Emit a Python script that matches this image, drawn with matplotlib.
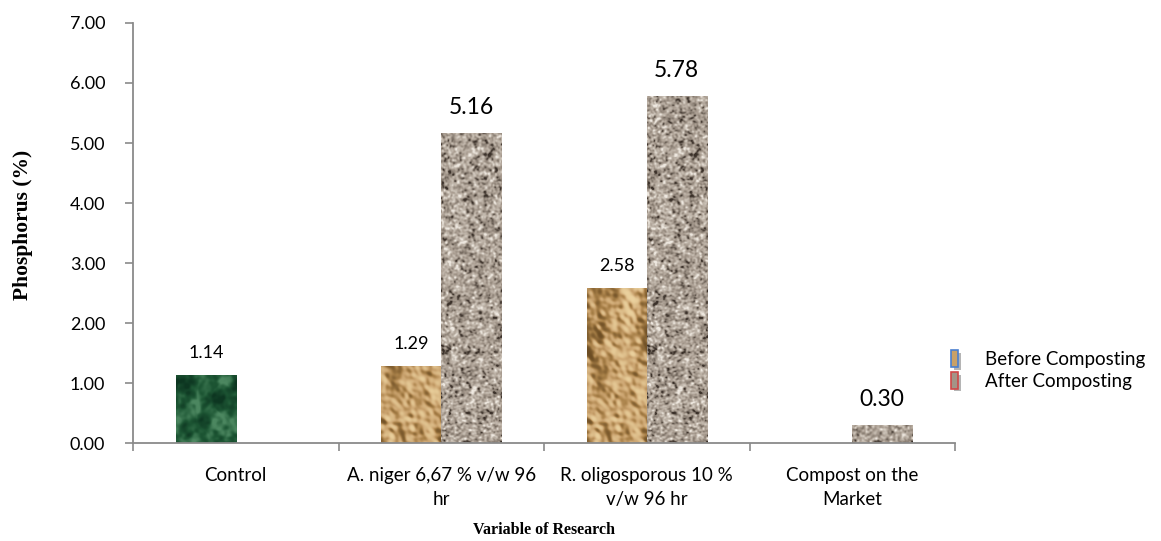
import numpy as np
import matplotlib
matplotlib.use("Agg")
import matplotlib.pyplot as plt
from matplotlib.colors import LinearSegmentedColormap
from matplotlib.legend_handler import HandlerBase
from matplotlib.patches import Patch, Rectangle

categories = [
    "Control",
    "A. niger 6,67 % v/w 96\nhr",
    "R. oligosporous 10 %\nv/w 96 hr",
    "Compost on the\nMarket",
]
control_value = 1.14
before_values = [np.nan, 1.29, 2.58, np.nan]
after_values = [np.nan, 5.16, 5.78, 0.30]
series_names = ["Before Composting", "After Composting"]

plt.rcParams["font.family"] = ["Lato", "DejaVu Sans"]
AXIS_GREY = "#8a8a8a"


def blur(a, sy, sx):
    fy = np.fft.fftfreq(a.shape[0])[:, None]
    fx = np.fft.fftfreq(a.shape[1])[None, :]
    k = np.exp(-2 * np.pi ** 2 * ((sy * fy) ** 2 + (sx * fx) ** 2))
    return np.real(np.fft.ifft2(np.fft.fft2(a) * k))


def norm(a):
    return (a - a.min()) / (a.max() - a.min())


def stretch(a):
    lo, hi = np.percentile(a, [1, 99])
    return np.clip((a - lo) / (hi - lo), 0, 1)


def granite(seed, shape=(420, 60)):
    rng = np.random.default_rng(seed)
    fine = stretch(blur(rng.standard_normal(shape), 0.9, 0.9))
    coarse = stretch(blur(rng.standard_normal(shape), 3, 3))
    v = 0.85 * fine + 0.15 * coarse
    cmap = LinearSegmentedColormap.from_list(
        "granite",
        [(0, "#3a3029"), (0.22, "#857a6f"), (0.5, "#ada195"),
         (0.78, "#cbc2b7"), (1, "#efe9e1")])
    return cmap(stretch(v))[..., :3]


def paper(seed, shape=(420, 60)):
    rng = np.random.default_rng(seed)
    h = (blur(rng.standard_normal(shape), 30, 14)
         + 0.22 * blur(rng.standard_normal(shape), 10, 6)
         + 0.02 * blur(rng.standard_normal(shape), 2, 2))
    gy, gx = np.gradient(h)
    shade = gx - 0.8 * gy
    shade = shade / shade.std()
    v = 0.5 + 0.5 * np.tanh(0.6 * shade)
    cmap = LinearSegmentedColormap.from_list(
        "paper",
        [(0, "#6a4b22"), (0.3, "#a98149"), (0.55, "#cba470"), (1, "#ecd3a0")])
    return cmap(v)[..., :3]


def marble(seed, shape=(420, 60)):
    rng = np.random.default_rng(seed)
    f = norm(blur(rng.standard_normal(shape), 9, 6))
    g = stretch(blur(rng.standard_normal(shape), 1.6, 1.6))
    m = stretch(blur(rng.standard_normal(shape), 5, 4))
    veins = np.exp(-np.abs(f - 0.5) * 10)
    v = np.clip(0.15 * veins + 0.35 * g + 0.5 * m, 0, 1)
    cmap = LinearSegmentedColormap.from_list(
        "marble", [(0, "#0d3621"), (0.5, "#1d5634"), (1, "#4c8760")])
    return cmap(stretch(v))[..., :3]


def fill_bars(ax, bars, tex):
    for rect in bars:
        if not np.isfinite(rect.get_height()):
            continue
        x0 = rect.get_x()
        im = ax.imshow(tex, extent=(x0, x0 + rect.get_width(), 0, 7),
                       aspect="auto", interpolation="bilinear", zorder=2)
        im.set_clip_path(rect)


class ShadowBox(HandlerBase):
    def create_artists(self, legend, orig_handle, xdescent, ydescent,
                       width, height, fontsize, trans):
        w = 0.55 * height
        h = height * 1.25
        x = width / 2 - w / 2 - xdescent
        y = -ydescent - (h - height) / 2
        shadow = Rectangle((x + 2, y - 2), w, h, facecolor="#b5b5b5",
                           edgecolor="none", transform=trans)
        box = Rectangle((x, y), w, h, facecolor=orig_handle.get_facecolor(),
                        edgecolor=orig_handle.get_edgecolor(), linewidth=1.2,
                        transform=trans)
        return [shadow, box]


fig = plt.figure(figsize=(11.61, 5.41), dpi=100)
ax = fig.add_axes([0.1146, 0.1811, 0.708, 0.7764])

x = np.arange(len(categories))
width = 0.292
control_bar = ax.bar([x[0] - width / 2], [control_value], width,
                     color="#1f5a35", linewidth=0, zorder=1)
before_bars = ax.bar(x - width / 2, before_values, width,
                     color="#c4a06a", linewidth=0, zorder=1)
after_bars = ax.bar(x + width / 2, after_values, width,
                    color="#a89b8e", linewidth=0, zorder=1)

fill_bars(ax, control_bar, marble(5))
fill_bars(ax, before_bars, paper(11))
fill_bars(ax, after_bars, granite(3))

# value labels: small for the first slot, larger for the after series
for rect, v in zip(control_bar, [control_value]):
    ax.annotate(f"{v:.2f}", (rect.get_x() + rect.get_width() / 2, v),
                xytext=(0, 10), textcoords="offset points",
                ha="center", va="bottom", fontsize=13)
for rect, v in zip(before_bars, before_values):
    if np.isfinite(v):
        ax.annotate(f"{v:.2f}", (rect.get_x() + rect.get_width() / 2, v),
                    xytext=(0, 10), textcoords="offset points",
                    ha="center", va="bottom", fontsize=13)
for rect, v in zip(after_bars, after_values):
    if np.isfinite(v):
        ax.annotate(f"{v:.2f}", (rect.get_x() + rect.get_width() / 2, v),
                    xytext=(0, 11), textcoords="offset points",
                    ha="center", va="bottom", fontsize=16.5)

ax.set_xlim(-0.5, len(categories) - 0.5)
ax.set_ylim(0, 7)
ax.set_yticks(np.arange(0, 8))
ax.set_yticklabels([f"{t:.2f}" for t in range(8)], fontsize=13)
ax.set_xticks(x)
ax.set_xticklabels(categories, fontsize=13.5, linespacing=1.5)
ax.set_xticks(np.arange(len(categories) + 1) - 0.5, minor=True)
ax.tick_params(axis="x", which="major", length=0, pad=17)
ax.tick_params(axis="x", which="minor", length=6, width=1.2, color=AXIS_GREY)
ax.tick_params(axis="y", length=6, width=1.2, color=AXIS_GREY, pad=14)

for side in ("top", "right"):
    ax.spines[side].set_visible(False)
for side in ("left", "bottom"):
    ax.spines[side].set_color(AXIS_GREY)
    ax.spines[side].set_linewidth(1.3)

ax.set_ylabel("Phosphorus (%)", family="Liberation Serif", fontweight="bold",
              fontsize=15.5)
ax.yaxis.set_label_coords(-0.122, 0.52)
ax.set_xlabel("Variable of Research", family="Liberation Serif",
              fontweight="bold", fontsize=11.5, labelpad=10)

handles = [Patch(facecolor="#c9a168", edgecolor="#4a7fd0"),
           Patch(facecolor="#a49487", edgecolor="#d04848")]
fig.legend(handles, series_names, loc="upper left",
           bbox_to_anchor=(0.798, 0.382), frameon=False, fontsize=13.5,
           handler_map={Patch: ShadowBox()}, handlelength=1.2,
           handletextpad=1.0, labelspacing=0.25)

fig.savefig("out.png", dpi=100)
